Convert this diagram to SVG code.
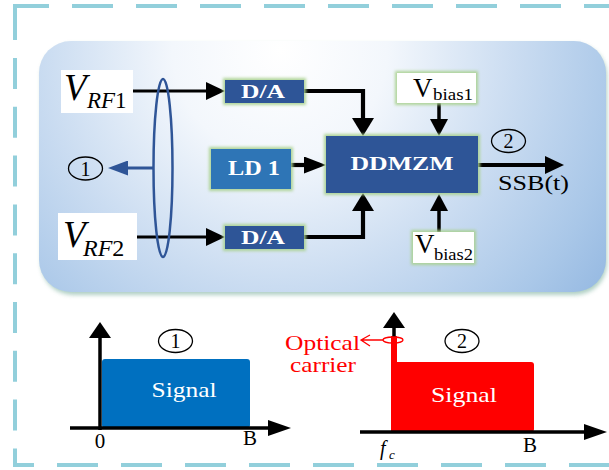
<svg xmlns="http://www.w3.org/2000/svg" width="609" height="470" viewBox="0 0 609 470">
<defs>
<style>
.border{fill:none;stroke:#92cfdb;stroke-width:4}
.serif{font-family:"Liberation Serif","Times New Roman",serif}
.wb{fill:#fff;font-weight:bold;font-family:"Liberation Serif","Times New Roman",serif;text-anchor:middle}
.blk{fill:#000;font-family:"Liberation Serif","Times New Roman",serif}
.conn{fill:none;stroke:#000}
.circ{fill:none;stroke:#000;stroke-width:1.3}
.dark{fill:#2f5597}
</style>
<radialGradient id="panelGrad" gradientUnits="userSpaceOnUse" cx="280" cy="50" r="430">
<stop offset="0" stop-color="#ffffff"/>
<stop offset="0.25" stop-color="#f3f7fc"/>
<stop offset="0.55" stop-color="#cadcf1"/>
<stop offset="0.8" stop-color="#a9c7e8"/>
<stop offset="1" stop-color="#8db3df"/>
</radialGradient>
<filter id="glow" x="-30%" y="-40%" width="160%" height="180%">
<feMorphology in="SourceAlpha" operator="dilate" radius="2" result="d"/>
<feGaussianBlur in="d" stdDeviation="1.8" result="b"/>
<feFlood flood-color="#a9d18e" flood-opacity="0.9"/>
<feComposite in2="b" operator="in" result="g"/>
<feMerge><feMergeNode in="g"/><feMergeNode in="SourceGraphic"/></feMerge>
</filter>
<filter id="shadow" x="-5%" y="-5%" width="110%" height="115%">
<feGaussianBlur stdDeviation="2"/>
</filter>
<marker id="aBig" viewBox="0 0 10 10" refX="0" refY="5" markerUnits="userSpaceOnUse" markerWidth="18" markerHeight="22" orient="auto" preserveAspectRatio="none"><path d="M0,0 L10,5 L0,10 Z" fill="#000"/></marker>
<marker id="aMid" viewBox="0 0 10 10" refX="0" refY="5" markerUnits="userSpaceOnUse" markerWidth="19" markerHeight="18" orient="auto" preserveAspectRatio="none"><path d="M0,0 L10,5 L0,10 Z" fill="#000"/></marker>
<marker id="aLD" viewBox="0 0 10 10" refX="0" refY="5" markerUnits="userSpaceOnUse" markerWidth="22" markerHeight="17" orient="auto" preserveAspectRatio="none"><path d="M0,0 L10,5 L0,10 Z" fill="#000"/></marker>
<marker id="aSm" viewBox="0 0 10 10" refX="0" refY="5" markerUnits="userSpaceOnUse" markerWidth="17" markerHeight="18" orient="auto" preserveAspectRatio="none"><path d="M0,0 L10,5 L0,10 Z" fill="#000"/></marker>
<marker id="aBlue" viewBox="0 0 10 10" refX="0" refY="5" markerUnits="userSpaceOnUse" markerWidth="20" markerHeight="15" orient="auto" preserveAspectRatio="none"><path d="M0,0 L10,5 L0,10 Z" fill="#2f5597"/></marker>
<marker id="aAxV" viewBox="0 0 10 10" refX="0" refY="5" markerUnits="userSpaceOnUse" markerWidth="16" markerHeight="22" orient="auto" preserveAspectRatio="none"><path d="M0,0 L10,5 L0,10 Z" fill="#000"/></marker>
<marker id="aAxH" viewBox="0 0 10 10" refX="0" refY="5" markerUnits="userSpaceOnUse" markerWidth="23" markerHeight="16" orient="auto" preserveAspectRatio="none"><path d="M0,0 L10,5 L0,10 Z" fill="#000"/></marker>
</defs>

<!-- outer dashed frame -->
<g id="frame">
<path class="border" d="M13,6 H609" stroke-dasharray="41 23" stroke-dashoffset="5"/>
<path class="border" d="M15,4 V40"/>
<path class="border" d="M15,58 V465" stroke-dasharray="31 17.8"/>
<path class="border" d="M13,465 H609" stroke-dasharray="41 23" stroke-dashoffset="20"/>
</g>

<!-- panel -->
<g id="panel">
<rect x="41" y="44" width="566" height="251" rx="32" fill="#9cc4b6" opacity="0.8" filter="url(#shadow)"/>
<rect x="39" y="41" width="567" height="251" rx="32" fill="url(#panelGrad)"/>
</g>

<g id="connectors">
<path class="conn" stroke-width="3.2" d="M133,91 H206" marker-end="url(#aMid)"/>
<path class="conn" stroke-width="3.2" d="M137,237 H206" marker-end="url(#aMid)"/>
<path class="conn" stroke-width="4.2" d="M304,91 H363 V118" marker-end="url(#aBig)"/>
<path class="conn" stroke-width="4.2" d="M304,237 H363 V211" marker-end="url(#aBig)"/>
<path class="conn" stroke-width="4.2" d="M291,165 H304" marker-end="url(#aLD)"/>
<path class="conn" stroke-width="3.5" d="M439,103 V119" marker-end="url(#aSm)"/>
<path class="conn" stroke-width="3.5" d="M439,232 V211" marker-end="url(#aSm)"/>
<path class="conn" stroke-width="4" d="M478,165 H545" marker-end="url(#aMid)"/>
<path fill="none" stroke="#2f5597" stroke-width="3" d="M154,168 H128" marker-end="url(#aBlue)"/>
</g>

<g id="bundle">
<ellipse cx="163" cy="168" rx="9.5" ry="89" fill="none" stroke="#2f5597" stroke-width="2.5"/>
</g>

<g id="vrf1">
<rect x="61" y="70" width="72" height="43" fill="#fff"/>
<text class="blk" x="64" y="100" font-size="37" font-style="italic">V</text>
<text class="blk" x="87" y="108" font-size="23"><tspan font-style="italic">RF</tspan>1</text>
</g>

<g id="vrf2">
<rect x="58" y="213" width="79" height="47" fill="#fff"/>
<text class="blk" x="63" y="247" font-size="37" font-style="italic">V</text>
<text class="blk" x="83" y="256" font-size="24"><tspan font-style="italic">RF</tspan>2</text>
</g>

<g id="label1">
<ellipse class="circ" cx="85.5" cy="168.5" rx="17" ry="11.5"/>
<text class="blk" x="85.5" y="175.5" font-size="20" text-anchor="middle">1</text>
</g>

<g id="da1">
<rect class="dark" x="225" y="80" width="79" height="23" filter="url(#glow)"/>
<text class="wb" x="263" y="98" font-size="19" textLength="44" lengthAdjust="spacingAndGlyphs">D/A</text>
</g>

<g id="da2">
<rect class="dark" x="225" y="226" width="79" height="23" filter="url(#glow)"/>
<text class="wb" x="263" y="244" font-size="19" textLength="44" lengthAdjust="spacingAndGlyphs">D/A</text>
</g>

<g id="ld1">
<rect x="211" y="149" width="80" height="40" fill="#2e75b6" filter="url(#glow)"/>
<text class="wb" x="254" y="175" font-size="21" textLength="52" lengthAdjust="spacingAndGlyphs">LD 1</text>
</g>

<g id="ddmzm">
<rect class="dark" x="326" y="136" width="152" height="57" filter="url(#glow)"/>
<text class="wb" x="402" y="170" font-size="19" textLength="103" lengthAdjust="spacingAndGlyphs">DDMZM</text>
</g>

<g id="vbias1">
<rect x="397" y="73" width="79" height="30" fill="#fff" filter="url(#glow)"/>
<text class="blk" x="413" y="97" font-size="27">V</text>
<text class="blk" x="433" y="100" font-size="17" textLength="40" lengthAdjust="spacingAndGlyphs">bias1</text>
</g>

<g id="vbias2">
<rect x="413" y="232" width="61" height="31" fill="#fff" filter="url(#glow)"/>
<text class="blk" x="415" y="253" font-size="27">V</text>
<text class="blk" x="434" y="260" font-size="17" textLength="39" lengthAdjust="spacingAndGlyphs">bias2</text>
</g>

<g id="output">
<ellipse class="circ" cx="508.5" cy="141" rx="17" ry="11.5"/>
<text class="blk" x="508.5" y="148" font-size="20" text-anchor="middle">2</text>
<text class="blk" x="498" y="190" font-size="20" textLength="71" lengthAdjust="spacingAndGlyphs">SSB(t)</text>
</g>

<!-- spectrum 1 -->
<g id="spectrum1">
<rect x="102" y="359" width="148" height="69" rx="3" fill="#0070c0"/>
<path class="conn" stroke-width="3.5" d="M100,430 V338" marker-end="url(#aAxV)"/>
<path class="conn" stroke-width="3.5" d="M70,428 H268" marker-end="url(#aAxH)"/>
<text x="184" y="397" font-size="22" fill="#fff" text-anchor="middle" class="serif" textLength="65" lengthAdjust="spacingAndGlyphs">Signal</text>
<ellipse class="circ" cx="175.5" cy="341" rx="17" ry="11.5"/>
<text class="blk" x="175.5" y="348" font-size="20" text-anchor="middle">1</text>
<text class="blk" x="100" y="448" font-size="21" text-anchor="middle">0</text>
<text class="blk" x="250" y="445" font-size="21" text-anchor="middle">B</text>
</g>

<!-- spectrum 2 -->
<g id="spectrum2">
<rect x="391" y="362" width="143" height="70" rx="3" fill="#ff0000"/>
<rect x="391" y="336" width="6" height="96" fill="#ff0000"/>
<path class="conn" stroke-width="3.5" d="M360,432 H584" marker-end="url(#aAxH)"/>
<path class="conn" stroke-width="3.5" d="M394,337 V328" marker-end="url(#aAxV)"/>
<ellipse cx="393" cy="340" rx="10" ry="3" fill="none" stroke="#ff0000" stroke-width="1.3"/>
<path d="M383,340 H361 M370,335 L361,340 L370,346" fill="none" stroke="#ff0000" stroke-width="1.3"/>
<text x="285" y="350" font-size="21" fill="#ff0000" class="serif" textLength="75" lengthAdjust="spacingAndGlyphs">Optical</text>
<text x="290" y="372" font-size="21" fill="#ff0000" class="serif" textLength="66" lengthAdjust="spacingAndGlyphs">carrier</text>
<text x="464" y="402" font-size="22" fill="#fff" text-anchor="middle" class="serif" textLength="66" lengthAdjust="spacingAndGlyphs">Signal</text>
<ellipse class="circ" cx="462" cy="341" rx="17" ry="11.5"/>
<text class="blk" x="462" y="348" font-size="20" text-anchor="middle">2</text>
<text class="blk" x="530" y="452" font-size="21" text-anchor="middle">B</text>
<text class="blk" x="380" y="455" font-size="20" font-style="italic">f</text>
<text class="blk" x="389" y="459" font-size="13" font-style="italic">c</text>
</g>
</svg>
